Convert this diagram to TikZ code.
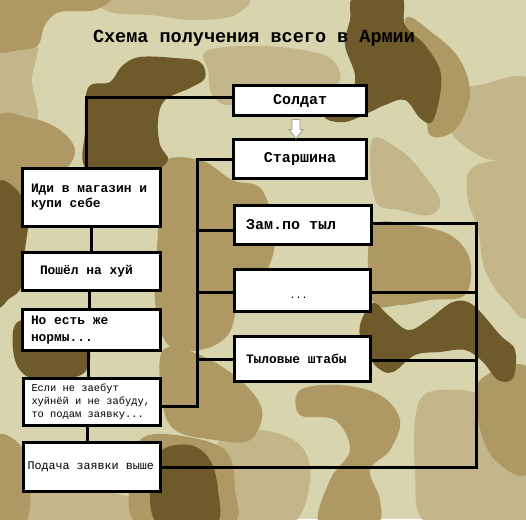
\documentclass[tikz,border=0pt]{standalone}
\usepackage{fontspec}
\newfontfamily\cour{Liberation Mono}
\newcommand\monofs[2]{\cour\fontsize{#1}{#2}\selectfont}
\newcommand\fixsp{\spaceskip=0.6em\relax\xspaceskip=0.6em\relax}
\definecolor{camL}{HTML}{D7D4AE}
\definecolor{camM}{HTML}{C4B58A}
\definecolor{camO}{HTML}{AE9964}
\definecolor{camD}{HTML}{6E5A2A}
\tikzset{
  box/.style={draw=black, line width=3pt, fill=white, inner sep=0pt, anchor=center},
  conn/.style={draw=black, line width=3pt},
  blob/.style={smooth cycle, tension=0.6},
  bigtext/.style={font=\bfseries\monofs{15}{17}},
  midtext/.style={font=\bfseries\monofs{12.9}{15}},
  hollowarrow/.style={fill=white, draw=gray!80, line width=0.8pt, line join=miter}
}
\begin{document}
\begin{tikzpicture}[x=1pt,y=-1pt]
\useasboundingbox (0,0) rectangle (526,519);
\begin{scope}
\clip (0,0) rectangle (526,519);
\fill[camL] (0,0) rectangle (526,519);
% medium patches
\fill[camM] plot[blob] coordinates {(-5,15) (25,20) (38,45) (32,80) (38,115) (30,140) (10,152) (-5,150)};
\fill[camM] plot[blob] coordinates {(100,-5) (240,-5) (235,15) (195,20) (150,15) (110,12)};
\fill[camM] plot[blob] coordinates {(205,52) (240,46) (290,48) (330,58) (340,80) (320,90) (260,88) (230,105) (212,95) (208,70)};
\fill[camM] plot[blob] coordinates {(445,95) (480,85) (530,80) (530,150) (495,160) (470,150) (450,130)};
\fill[camM] plot[blob] coordinates {(372,140) (400,150) (420,170) (440,200) (430,215) (400,210) (375,200)};
\fill[camM] plot[blob] coordinates {(470,170) (500,160) (530,165) (530,310) (505,300) (485,270) (478,230) (468,200)};
\fill[camM] plot[blob] coordinates {(420,400) (460,390) (500,400) (530,390) (530,525) (430,525) (415,470)};
\fill[camM] plot[blob] coordinates {(25,495) (80,490) (140,500) (150,525) (20,525)};
\fill[camM] plot[blob] coordinates {(220,440) (260,430) (300,445) (310,480) (290,525) (220,525) (215,480)};
% ochre patches
\fill[camO] plot[blob] coordinates {(-5,-5) (105,-5) (95,10) (60,12) (45,25) (38,45) (20,50) (-5,48)};
\fill[camO] plot[blob] coordinates {(-5,120) (30,118) (60,130) (75,150) (65,170) (40,185) (20,200) (-5,205)};
\fill[camO] plot[blob] coordinates {(160,165) (200,160) (232,180) (262,190) (275,240) (262,280) (240,300) (228,335) (200,350) (168,345) (155,300) (158,230)};
\fill[camO] plot[blob] coordinates {(372,228) (410,225) (450,235) (470,260) (465,295) (430,300) (400,305) (372,300)};
\fill[camO] plot[blob] coordinates {(405,20) (435,35) (460,60) (470,95) (455,130) (430,135) (425,100)};
\fill[camO] plot[blob] coordinates {(300,390) (340,385) (380,395) (400,420) (390,450) (370,470) (380,500) (375,525) (320,525) (330,480) (350,450) (335,420) (300,415)};
\fill[camO] plot[blob] coordinates {(163,350) (200,355) (240,380) (262,410) (250,440) (215,440) (175,430) (162,400)};
\fill[camO] plot[blob] coordinates {(-5,440) (20,445) (30,480) (25,525) (-5,525)};
\fill[camO] plot[blob] coordinates {(140,440) (175,435) (225,450) (235,490) (230,525) (140,525) (130,480)};
\fill[camO] plot[blob] coordinates {(480,380) (530,370) (530,470) (495,460) (478,420)};
% dark patches
\fill[camD] plot[blob] coordinates {(88,88) (110,82) (122,66) (140,57) (175,58) (200,62) (205,78) (190,88) (165,100) (158,120) (160,145) (168,160) (150,170) (88,170) (85,130)};
\fill[camD] plot[blob] coordinates {(-5,190) (15,188) (28,215) (25,250) (22,285) (10,298) (-5,300)};
\fill[camD] plot[blob] coordinates {(355,-5) (400,-5) (405,25) (425,45) (440,70) (440,95) (432,122) (420,118) (405,100) (385,105) (370,112) (345,122) (325,118) (330,105) (350,95) (355,75) (345,45) (350,20)};
\fill[camD] plot[blob] coordinates {(373,303) (388,315) (408,330) (428,320) (453,302) (473,305) (500,335) (515,350) (513,378) (498,380) (483,362) (465,350) (440,352) (415,355) (393,372) (378,368) (363,347) (360,325)};
\fill[camD] plot[blob] coordinates {(15,325) (40,318) (80,322) (90,350) (85,372) (60,380) (30,378) (15,360)};
\fill[camD] plot[blob] coordinates {(160,452) (190,445) (210,460) (218,490) (215,525) (160,525) (150,490)};
\end{scope}

% title
\node[font=\bfseries\monofs{18.5}{22}, anchor=base] (title) at (254,42) {Схема получения всего в Армии};

% right column boxes
\node[box, bigtext, minimum width=133pt, minimum height=30pt] (sold) at (300,100.5) {Солдат};
\node[box, bigtext, minimum width=133pt, minimum height=39pt] (star) at (300,159) {Старшина};
\node[box, bigtext, minimum width=137pt, minimum height=39pt, text width=114pt, inner xsep=11.5pt, align=left] (zam) at (303,225) {\fixsp Зам.по тыл};
\node[box, font=\monofs{10}{12}, minimum width=136pt, minimum height=42pt] (dots) at (302.5,290.5) {\raisebox{-8pt}[0pt][0pt]{\makebox[0pt][c]{\kern-8pt...}}};
\node[box, midtext, minimum width=136pt, minimum height=45pt, text width=113pt, inner xsep=11.5pt, align=left] (tyl) at (302.5,359) {\fixsp Тыловые штабы};

% left column boxes
\node[box, midtext, minimum width=138pt, minimum height=58pt, text width=121pt, inner xsep=8.5pt, align=left] (idi) at (91.5,197.5) {\fixsp Иди в магазин и\\купи себе};
\node[box, midtext, minimum width=138pt, minimum height=38pt, text width=103pt, inner xsep=17.5pt, align=left] (posh) at (91.5,271.5) {\fixsp Пошёл на хуй};
\node[box, font=\bfseries\monofs{12.9}{16.5}, minimum width=138pt, minimum height=41pt, text width=121pt, inner xsep=8.5pt, align=left] (norm) at (91.5,330) {\fixsp Но есть же\\нормы...};
\node[box, font=\monofs{10.4}{13}, minimum width=137pt, minimum height=47pt, text width=121pt, inner xsep=8pt, align=left] (esli) at (92,402) {\fixsp Если не заебут\\хуйнёй и не забуду,\\то подам заявку...};
\node[box, font=\monofs{11.7}{14}, minimum width=137pt, minimum height=49pt, text width=129pt, inner xsep=4pt, align=left] (pod) at (92,467) {\fixsp Подача заявки выше};

% coordinates for buses
\coordinate (bb) at (197,406);
\coordinate (rb) at (476,467);
\coordinate (st) at ([yshift=3.5pt]sold.west);
\coordinate (zl) at ([yshift=-5pt]zam.west);
\coordinate (dl) at ([yshift=-1.5pt]dots.west);
\coordinate (tl) at (tyl.west);
\coordinate (zr) at ([yshift=2pt]zam.east);
\coordinate (dr) at ([yshift=-1.5pt]dots.east);
\coordinate (tr) at ([yshift=-1pt]tyl.east);

% connectors
\draw[conn] (st) -| ([xshift=-5.5pt]idi.north);
\draw[conn] ([xshift=-0.5pt]idi.south) -- ([xshift=-0.5pt]posh.north);
\draw[conn] ([xshift=-2.5pt]posh.south) -- ([xshift=-2.5pt]norm.north);
\draw[conn] ([xshift=-3.5pt]norm.south) -- ([xshift=-4pt]esli.north);
\draw[conn] ([xshift=-5pt]esli.south) -- ([xshift=-5pt]pod.north);
\draw[conn] (star.west) -| (bb) -- (esli.east |- bb);
\draw[conn] (zl) -- (zl -| bb);
\draw[conn] (dl) -- (dl -| bb);
\draw[conn] (tl) -- (tl -| bb);
\draw[conn] (zr) -| (rb) -- (pod.east |- rb);
\draw[conn] (dr) -- (dr -| rb);
\draw[conn] (tr) -- (tr -| rb);

% hollow arrow from Солдат to Старшина
\draw[hollowarrow] ([xshift=-8pt,yshift=-2.5pt]sold.south) -- ++(8,0) -- ++(0,10) -- ++(3,0) -- ++(-7,9) -- ++(-7,-9) -- ++(3,0) -- cycle;
\end{tikzpicture}
\end{document}
